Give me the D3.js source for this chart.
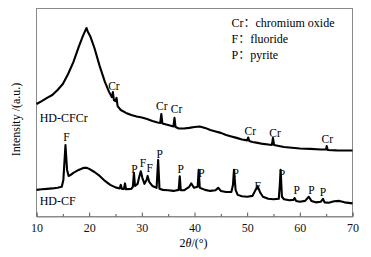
<html>
<head>
<script src="https://d3js.org/d3.v7.min.js"></script>
<style>
  body { margin: 0; background: #fff; }
</style>
</head>
<body>
<svg id="xrd" width="371" height="257"></svg>
<script>
// HD-CFCr trace (2theta, intensity a.u.)
const cfcrX = [10, 11, 12, 13, 14, 15, 16, 17, 18, 18.8, 19.3, 19.5, 19.7, 20.2, 21, 22, 23, 23.8, 24.3, 24.5, 24.7, 25, 25.2, 25.4, 26, 27, 28, 29, 30, 31, 32, 33, 33.5, 33.7, 33.9, 35, 36, 36.2, 36.4, 37, 38, 39, 40, 41, 42, 43, 44, 45, 46, 47, 48, 49, 50, 50.2, 50.4, 51, 52, 53, 54, 54.7, 54.9, 55.1, 56, 57, 58, 60, 62, 64, 65, 65.1, 65.3, 67, 70];
const cfcrY = [54.1, 55.5, 57.0, 58.4, 60.8, 63.7, 68.5, 74.2, 81.4, 86.7, 89.6, 90.6, 89.1, 86.7, 81.0, 72.3, 64.6, 59.8, 57.4, 59.8, 56.0, 55.5, 57.0, 53.1, 51.2, 49.8, 48.8, 48.1, 47.6, 46.9, 45.9, 45.2, 45.0, 49.3, 44.7, 44.0, 43.3, 47.4, 43.0, 42.3, 42.3, 42.6, 43.0, 43.3, 42.6, 41.6, 40.9, 40.2, 39.2, 38.5, 37.8, 37.0, 36.6, 38.0, 36.3, 35.8, 35.4, 34.9, 34.6, 34.4, 37.8, 34.4, 33.9, 33.4, 33.2, 32.7, 32.5, 32.2, 32.2, 33.9, 32.0, 31.8, 31.7];

// HD-CF trace
const cfX = [10, 11, 12, 13, 14, 14.8, 15.1, 15.5, 15.8, 16.1, 16.5, 17, 18, 19, 19.5, 20, 21, 22, 23, 24, 25, 25.8, 26, 26.2, 26.6, 26.8, 27, 28, 28.3, 28.5, 28.7, 29.2, 29.5, 29.8, 30.1, 30.5, 30.9, 31.1, 31.4, 32, 32.8, 33.1, 33.35, 34, 35, 36, 37, 37.2, 37.4, 38, 39, 39.4, 39.9, 40.6, 40.8, 41, 42, 43, 44, 44.5, 45, 46, 47, 47.3, 47.5, 47.8, 48.2, 49, 50, 51, 51.6, 52, 52.5, 53, 54, 55, 56, 56.2, 56.35, 56.6, 57, 58, 58.8, 59, 59.3, 60, 61, 61.7, 62.2, 63, 64, 64.4, 64.7, 65.5, 66.5, 67.5, 68.5, 70];
const cfY = [12.8, 13.1, 13.3, 13.5, 13.8, 14.3, 17.6, 34.4, 22.4, 19.5, 20.0, 21.0, 22.4, 23.4, 23.4, 22.9, 21.4, 19.5, 17.1, 15.2, 14.0, 13.5, 15.2, 13.3, 13.3, 15.9, 13.1, 13.3, 14.3, 21.0, 14.7, 15.7, 19.0, 21.7, 18.6, 15.7, 17.6, 19.5, 16.7, 14.7, 13.8, 27.2, 13.3, 12.8, 12.6, 12.3, 12.8, 19.3, 12.6, 12.6, 14.3, 15.9, 13.8, 14.3, 22.4, 13.8, 12.8, 12.3, 12.6, 13.8, 12.3, 11.8, 11.8, 15.1, 22.4, 12.8, 10.4, 9.7, 9.5, 9.9, 12.8, 14.5, 11.4, 9.5, 8.5, 8.3, 8.5, 15.2, 22.4, 9.5, 8.3, 7.8, 8.0, 8.9, 7.5, 7.1, 7.5, 9.5, 7.5, 6.8, 7.1, 8.5, 6.8, 6.6, 7.3, 7.5, 6.8, 6.3];

// peak annotations: text, 2theta, baseline intensity
const peakText = ["Cr", "Cr", "Cr", "Cr", "Cr", "Cr",
                  "F", "P", "F", "F", "P", "P", "P", "P", "F", "P", "P", "P", "P"];
const peakX = [24.7, 33.8, 36.6, 50.6, 55.3, 65.2,
               15.7, 28.6, 30.2, 31.5, 33.4, 37.4, 41.3, 47.8, 52.0, 56.6, 59.4, 62.2, 64.4];
const peakY = [60.8, 51.2, 49.9, 39.2, 38.4, 35.5,
               36.5, 20.8, 23.7, 21.6, 28.0, 20.8, 18.9, 18.9, 12.8, 18.4, 10.9, 10.9, 9.9];

const seriesNames = ["HD-CFCr", "HD-CF"];
const legendLines = ["Cr：chromium oxide", "F：fluoride", "P：pyrite"];
const xTicks = [10, 20, 30, 40, 50, 60, 70];
const xMinor = [15, 25, 35, 45, 55, 65];

const serif = "'Liberation Serif', 'Times New Roman', 'Noto Sans CJK SC', serif";

const svg = d3.select("#xrd");
const margins = { top: 8.5, left: 36.5, right: 18.5, bottom: 40.5 };
const chartWidth = 371 - margins.left - margins.right;
const chartHeight = 257 - margins.top - margins.bottom;

const chart = svg.append("g")
    .attr("transform", `translate(${margins.left},${margins.top})`);

const xScale = d3.scaleLinear().domain([10, 70]).range([0, chartWidth]);
const yScale = d3.scaleLinear().domain([0, 100]).range([chartHeight, 0]);

// frame
chart.append("rect")
    .attr("width", chartWidth).attr("height", chartHeight)
    .attr("fill", "none").attr("stroke", "#8a8a8a").attr("stroke-width", 1);

// bottom axis, ticks pointing inward
const bottomAxis = d3.axisBottom(xScale).tickValues(xTicks).tickSize(-4).tickPadding(7);
const xAxis = chart.append("g")
    .attr("transform", `translate(0,${chartHeight})`)
    .call(bottomAxis);
xAxis.select(".domain").attr("stroke", "#8a8a8a");
xAxis.selectAll(".tick line").attr("stroke", "#555");
xAxis.selectAll("text")
    .style("font-family", serif).style("font-size", "12px").attr("fill", "#111");

const minorAxis = d3.axisBottom(xScale).tickValues(xMinor).tickSize(-2.5).tickFormat("");
const xm = chart.append("g")
    .attr("transform", `translate(0,${chartHeight})`)
    .call(minorAxis);
xm.select(".domain").remove();
xm.selectAll(".tick line").attr("stroke", "#555");

// traces
const line = d3.line().x(d => xScale(d[0])).y(d => yScale(d[1]));
const traces = [d3.zip(cfcrX, cfcrY), d3.zip(cfX, cfY)];
chart.selectAll("path.trace").data(traces)
    .join("path")
    .attr("class", "trace")
    .attr("d", line)
    .attr("fill", "none")
    .attr("stroke", "#000")
    .attr("stroke-width", 2.1)
    .attr("stroke-linejoin", "round");

// peak labels
chart.selectAll("text.peak").data(peakText)
    .join("text")
    .attr("class", "peak")
    .attr("x", (d, i) => xScale(peakX[i]))
    .attr("y", (d, i) => yScale(peakY[i]))
    .attr("text-anchor", "middle")
    .style("font-family", serif)
    .style("font-size", "11.5px")
    .text(d => d);

// series labels
const nameX = [10.6, 10.6];
const nameY = [45.6, 5.6];
chart.selectAll("text.name").data(seriesNames)
    .join("text")
    .attr("class", "name")
    .attr("x", (d, i) => xScale(nameX[i]))
    .attr("y", (d, i) => yScale(nameY[i]))
    .style("font-family", serif)
    .style("font-size", "12px")
    .text(d => d);

// legend text
chart.selectAll("text.legend").data(legendLines)
    .join("text")
    .attr("class", "legend")
    .attr("x", 195)
    .attr("y", (d, i) => 18.2 + i * 16)
    .style("font-family", serif)
    .style("font-size", "12px")
    .text(d => d);

// axis titles
const xt = svg.append("text")
    .attr("x", margins.left + chartWidth / 2 - 1)
    .attr("y", 246.5)
    .attr("text-anchor", "middle")
    .style("font-family", serif)
    .style("font-size", "12px");
xt.append("tspan").text("2");
xt.append("tspan").style("font-style", "italic").text("θ");
xt.append("tspan").text("/(°)");

svg.append("text")
    .attr("transform", "rotate(-90)")
    .attr("x", -119.5)
    .attr("y", 20)
    .attr("text-anchor", "middle")
    .style("font-family", serif)
    .style("font-size", "12px")
    .text("Intensity /(a.u.)");
</script>
</body>
</html>
